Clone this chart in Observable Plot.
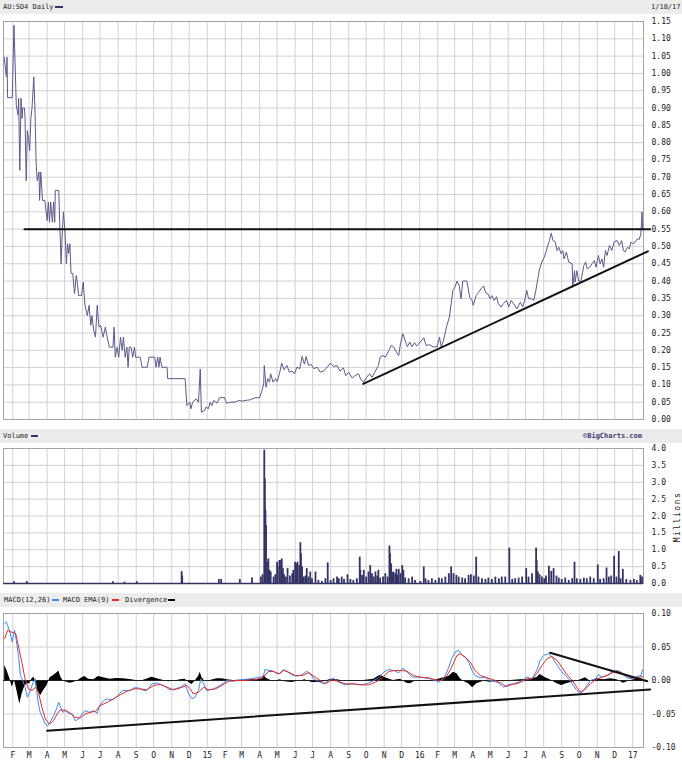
<!DOCTYPE html>
<html><head><meta charset="utf-8">
<script src="https://cdn.jsdelivr.net/npm/d3@7"></script>
<script src="https://cdn.jsdelivr.net/npm/@observablehq/plot@0.6"></script>
<style>
body{margin:0;background:#fff;}
#wrap{position:relative;width:682px;height:761px;overflow:hidden;font-family:"DejaVu Sans Mono",monospace;color:#222;background:#fff;}
.bar{position:absolute;left:0;width:682px;background:#ececec;}
.t{position:absolute;font-size:7px;white-space:nowrap;}
.sw{position:absolute;height:2px;}
.plot{position:absolute;left:0;}
</style></head><body><div id="wrap"></div>
<script>
// ---------------- DATA ----------------
const title = "AU:SO4 Daily";
const dateLabel = "1/18/17";
const xStart = "2014-01-16", xEnd = "2017-01-19T12:00:00Z";

const monthTicks = ["2014-02-01","2014-03-01","2014-04-01","2014-05-01","2014-06-01","2014-07-01","2014-08-01","2014-09-01","2014-10-01","2014-11-01","2014-12-01",
"2015-01-01","2015-02-01","2015-03-01","2015-04-01","2015-05-01","2015-06-01","2015-07-01","2015-08-01","2015-09-01","2015-10-01","2015-11-01","2015-12-01",
"2016-01-01","2016-02-01","2016-03-01","2016-04-01","2016-05-01","2016-06-01","2016-07-01","2016-08-01","2016-09-01","2016-10-01","2016-11-01","2016-12-01",
"2017-01-01"];
const monthLabels = ["F","M","A","M","J","J","A","S","O","N","D","15","F","M","A","M","J","J","A","S","O","N","D","16","F","M","A","M","J","J","A","S","O","N","D","17"];

const priceTicks = [0,0.05,0.10,0.15,0.20,0.25,0.30,0.35,0.40,0.45,0.50,0.55,0.60,0.65,0.70,0.75,0.80,0.85,0.90,0.95,1.00,1.05,1.10,1.15];
const volumeTicks = [0,0.5,1.0,1.5,2.0,2.5,3.0,3.5,4.0];
const macdTicks = [-0.10,-0.05,0,0.05,0.10];

const price = [
["2014-01-17",1.047],["2014-01-21",0.99],["2014-01-22",1.047],["2014-01-23",0.93],["2014-01-31",0.93],["2014-02-03",1.139],["2014-02-07",0.907],["2014-02-10",0.88],["2014-02-11",0.928],["2014-02-13",0.72],["2014-02-15",0.928],["2014-02-17",0.87],["2014-02-18",0.90],["2014-02-21",0.90],["2014-02-22",0.87],["2014-02-24",0.69],["2014-02-26",0.835],["2014-02-28",0.81],
["2014-03-02",0.777],["2014-03-04",0.87],["2014-03-06",0.90],["2014-03-09",0.99],["2014-03-11",0.90],["2014-03-13",0.744],["2014-03-15",0.69],["2014-03-18",0.715],["2014-03-19",0.633],["2014-03-21",0.715],["2014-03-24",0.633],["2014-03-28",0.633],
["2014-04-01",0.575],["2014-04-03",0.628],["2014-04-05",0.57],["2014-04-07",0.628],["2014-04-10",0.57],["2014-04-12",0.628],["2014-04-14",0.57],["2014-04-15",0.662],["2014-04-21",0.662],["2014-04-22",0.60],["2014-04-25",0.45],["2014-04-27",0.541],["2014-04-29",0.60],
["2014-05-02",0.532],["2014-05-04",0.45],["2014-05-06",0.508],["2014-05-08",0.48],["2014-05-10",0.508],["2014-05-12",0.422],["2014-05-15",0.422],["2014-05-18",0.364],["2014-05-21",0.416],["2014-05-23",0.393],["2014-05-25",0.358],["2014-05-30",0.358],
["2014-06-02",0.397],["2014-06-05",0.33],["2014-06-09",0.30],["2014-06-12",0.33],["2014-06-15",0.272],["2014-06-17",0.30],["2014-06-20",0.257],["2014-06-23",0.238],["2014-06-26",0.33],["2014-06-29",0.267],
["2014-07-02",0.272],["2014-07-06",0.238],["2014-07-10",0.267],["2014-07-13",0.238],["2014-07-17",0.209],["2014-07-23",0.209],["2014-07-25",0.267],["2014-07-27",0.18],["2014-07-30",0.209],
["2014-08-02",0.18],["2014-08-05",0.238],["2014-08-08",0.20],["2014-08-10",0.238],["2014-08-13",0.18],["2014-08-16",0.209],["2014-08-18",0.151],["2014-08-20",0.209],["2014-08-23",0.209],["2014-08-26",0.18],["2014-08-29",0.209],["2014-08-31",0.18],
["2014-09-08",0.18],["2014-09-11",0.151],["2014-09-20",0.151],["2014-09-23",0.18],["2014-10-03",0.18],["2014-10-05",0.151],["2014-10-08",0.18],["2014-10-10",0.151],["2014-10-12",0.18],["2014-10-15",0.151],["2014-10-24",0.151],["2014-10-25",0.118],["2014-11-24",0.118],
["2014-11-27",0.04],["2014-12-02",0.05],["2014-12-04",0.031],["2014-12-07",0.05],["2014-12-13",0.06],["2014-12-17",0.05],["2014-12-20",0.146],["2014-12-22",0.021],["2014-12-27",0.026],["2014-12-30",0.036],
["2015-01-03",0.031],["2015-01-06",0.05],["2015-01-09",0.04],["2015-01-12",0.055],["2015-01-18",0.047],["2015-01-22",0.063],["2015-01-31",0.063],["2015-02-03",0.047],["2015-02-10",0.05],["2015-02-18",0.05],["2015-02-24",0.055],
["2015-03-02",0.053],["2015-03-07",0.055],["2015-03-16",0.057],["2015-03-24",0.063],["2015-04-01",0.063],["2015-04-05",0.084],["2015-04-08",0.103],["2015-04-09",0.156],["2015-04-12",0.093],["2015-04-15",0.118],["2015-04-18",0.108],["2015-04-20",0.132],["2015-04-24",0.108],["2015-04-28",0.118],
["2015-05-01",0.11],["2015-05-05",0.132],["2015-05-09",0.163],["2015-05-13",0.144],["2015-05-18",0.156],["2015-05-22",0.137],["2015-05-27",0.14],["2015-05-31",0.132],
["2015-06-04",0.151],["2015-06-09",0.147],["2015-06-13",0.182],["2015-06-17",0.16],["2015-06-20",0.182],["2015-06-24",0.156],["2015-06-28",0.16],
["2015-07-03",0.147],["2015-07-09",0.151],["2015-07-14",0.137],["2015-07-20",0.14],["2015-07-26",0.151],["2015-08-01",0.163],["2015-08-06",0.153],["2015-08-12",0.156],["2015-08-17",0.14],["2015-08-23",0.149],["2015-08-27",0.127],
["2015-09-01",0.137],["2015-09-07",0.12],["2015-09-12",0.127],["2015-09-18",0.132],["2015-09-22",0.115],["2015-09-27",0.108],["2015-10-01",0.12],["2015-10-07",0.132],["2015-10-11",0.122],["2015-10-17",0.14],["2015-10-22",0.156],["2015-10-25",0.18],["2015-10-30",0.185],
["2015-11-03",0.18],["2015-11-09",0.199],["2015-11-13",0.214],["2015-11-17",0.21],["2015-11-22",0.195],["2015-11-26",0.185],["2015-11-29",0.219],["2015-12-03",0.248],["2015-12-07",0.228],["2015-12-11",0.21],["2015-12-15",0.224],["2015-12-19",0.21],["2015-12-23",0.222],["2015-12-27",0.212],
["2016-01-02",0.224],["2016-01-08",0.236],["2016-01-12",0.214],["2016-01-18",0.216],["2016-01-24",0.21],["2016-01-31",0.21],["2016-02-04",0.238],["2016-02-07",0.21],["2016-02-11",0.228],["2016-02-16",0.267],["2016-02-21",0.296],["2016-02-24",0.334],["2016-02-27",0.373],
["2016-03-02",0.384],["2016-03-05",0.40],["2016-03-09",0.386],["2016-03-12",0.349],["2016-03-15",0.40],["2016-03-22",0.40],["2016-03-27",0.353],["2016-03-31",0.344],["2016-04-02",0.33],["2016-04-07",0.358],["2016-04-11",0.367],["2016-04-15",0.377],["2016-04-20",0.386],["2016-04-23",0.367],["2016-04-27",0.363],
["2016-05-01",0.349],["2016-05-04",0.358],["2016-05-08",0.344],["2016-05-12",0.355],["2016-05-15",0.335],["2016-05-20",0.325],["2016-05-24",0.335],["2016-05-29",0.344],["2016-06-02",0.325],["2016-06-06",0.344],["2016-06-10",0.335],["2016-06-16",0.32],["2016-06-22",0.339],["2016-06-26",0.325],["2016-06-30",0.349],
["2016-07-03",0.373],["2016-07-06",0.349],["2016-07-11",0.349],["2016-07-15",0.344],["2016-07-19",0.377],["2016-07-22",0.407],["2016-07-25",0.435],["2016-07-29",0.455],["2016-08-02",0.469],["2016-08-05",0.484],["2016-08-08",0.503],["2016-08-11",0.517],["2016-08-14",0.538],["2016-08-17",0.517],["2016-08-21",0.513],["2016-08-24",0.488],["2016-08-27",0.498],["2016-08-31",0.479],
["2016-09-03",0.488],["2016-09-05",0.464],["2016-09-09",0.484],["2016-09-13",0.455],["2016-09-19",0.45],["2016-09-20",0.382],["2016-09-23",0.43],["2016-09-24",0.397],["2016-09-27",0.43],["2016-09-30",0.40],
["2016-10-04",0.40],["2016-10-09",0.445],["2016-10-12",0.455],["2016-10-15",0.435],["2016-10-19",0.44],["2016-10-23",0.45],["2016-10-27",0.459],["2016-10-30",0.44],["2016-11-03",0.474],["2016-11-06",0.45],["2016-11-09",0.464],["2016-11-12",0.44],["2016-11-15",0.488],["2016-11-18",0.474],["2016-11-22",0.503],["2016-11-26",0.488],["2016-11-30",0.513],
["2016-12-05",0.517],["2016-12-09",0.503],["2016-12-13",0.517],["2016-12-16",0.488],["2016-12-19",0.484],["2016-12-23",0.498],["2016-12-26",0.493],["2016-12-29",0.513],["2017-01-01",0.508],["2017-01-05",0.513],["2017-01-09",0.522],["2017-01-12",0.52],["2017-01-15",0.536],["2017-01-17",0.60],["2017-01-18",0.55]
];

const priceTrendLines = [
  ["resistance","2014-02-21",0.55],["resistance","2017-01-31",0.55],
  ["support","2015-09-26",0.103],["support","2017-01-27",0.486]
];

const volume = [
["2014-02-03",0.05],["2014-02-25",0.06],["2014-07-23",0.05],["2014-08-12",0.04],["2014-09-02",0.05],["2014-11-18",0.35],["2014-11-19",0.22],
["2015-01-21",0.12],["2015-01-25",0.12],["2015-02-26",0.12],["2015-03-19",0.16],["2015-04-03",0.19],["2015-04-06",0.26],
["2015-04-09",3.95],["2015-04-10",3.1],["2015-04-11",2.17],["2015-04-12",1.72],["2015-04-15",0.63],["2015-04-16",0.73],["2015-04-18",0.39],["2015-04-20",0.34],["2015-04-25",0.19],["2015-04-28",0.26],
["2015-05-01",0.63],["2015-05-02",0.49],["2015-05-05",0.68],["2015-05-06",0.68],["2015-05-09",0.73],["2015-05-11",0.44],["2015-05-13",0.26],["2015-05-16",0.19],["2015-05-19",0.44],["2015-05-23",0.22],["2015-05-27",0.29],["2015-05-29",0.39],
["2015-06-01",0.63],["2015-06-03",0.58],["2015-06-05",0.63],["2015-06-08",0.53],["2015-06-10",1.21],["2015-06-11",0.88],["2015-06-13",0.49],["2015-06-16",0.19],["2015-06-19",0.22],["2015-06-21",0.44],["2015-06-24",0.19],["2015-06-27",0.34],["2015-06-30",0.14],
["2015-07-06",0.34],["2015-07-11",0.09],["2015-07-17",0.06],["2015-07-23",0.14],["2015-07-27",0.61],["2015-08-01",0.09],["2015-08-06",0.14],["2015-08-12",0.19],["2015-08-15",0.14],["2015-08-20",0.19],["2015-08-24",0.12],["2015-08-30",0.26],
["2015-09-04",0.12],["2015-09-09",0.09],["2015-09-15",0.14],["2015-09-20",0.78],["2015-09-21",0.39],["2015-09-24",0.24],["2015-09-27",0.39],
["2015-10-01",0.19],["2015-10-05",0.34],["2015-10-08",0.53],["2015-10-11",0.29],["2015-10-14",0.19],["2015-10-17",0.34],["2015-10-20",0.22],["2015-10-22",0.39],["2015-10-25",0.16],["2015-10-30",0.19],
["2015-11-03",0.29],["2015-11-07",0.19],["2015-11-10",1.11],["2015-11-11",0.88],["2015-11-13",0.58],["2015-11-15",0.32],["2015-11-17",0.34],["2015-11-20",0.29],["2015-11-22",0.42],["2015-11-24",0.24],["2015-11-26",0.42],["2015-11-29",0.29],
["2015-12-02",0.53],["2015-12-04",0.39],["2015-12-07",0.16],["2015-12-13",0.14],["2015-12-19",0.19],["2015-12-24",0.09],
["2016-01-02",0.06],["2016-01-08",0.49],["2016-01-11",0.14],["2016-01-16",0.09],["2016-01-22",0.14],["2016-01-28",0.09],["2016-02-03",0.16],["2016-02-08",0.14],["2016-02-14",0.19],["2016-02-20",0.29],["2016-02-24",0.49],["2016-02-28",0.29],
["2016-03-04",0.24],["2016-03-08",0.19],["2016-03-14",0.16],["2016-03-19",0.14],["2016-03-25",0.24],["2016-03-29",0.26],["2016-04-03",0.22],["2016-04-07",0.78],["2016-04-11",0.19],["2016-04-17",0.14],["2016-04-23",0.12],["2016-04-28",0.16],
["2016-05-04",0.12],["2016-05-10",0.19],["2016-05-16",0.14],["2016-05-21",0.19],["2016-05-27",0.19],["2016-06-03",1.05],["2016-06-08",0.12],["2016-06-13",0.14],["2016-06-19",0.16],["2016-06-25",0.19],
["2016-07-02",0.44],["2016-07-06",0.19],["2016-07-12",0.29],["2016-07-19",1.05],["2016-07-20",0.68],["2016-07-22",0.34],["2016-07-25",0.26],["2016-07-29",0.19],
["2016-08-02",0.14],["2016-08-05",0.22],["2016-08-10",0.51],["2016-08-14",0.36],["2016-08-18",0.44],["2016-08-23",0.22],["2016-08-27",0.16],
["2016-09-01",0.12],["2016-09-07",0.16],["2016-09-13",0.09],["2016-09-19",0.14],["2016-09-23",0.63],["2016-09-27",0.14],["2016-10-03",0.12],["2016-10-09",0.16],["2016-10-14",0.14],["2016-10-20",0.19],["2016-10-26",0.14],
["2016-11-02",0.55],["2016-11-06",0.12],["2016-11-12",0.14],["2016-11-17",0.46],["2016-11-21",0.19],["2016-11-25",0.22],["2016-11-30",0.81],
["2016-12-04",0.19],["2016-12-08",0.95],["2016-12-11",0.14],["2016-12-15",0.42],["2016-12-21",0.12],["2016-12-28",0.09],["2017-01-03",0.12],["2017-01-08",0.09],["2017-01-14",0.24],["2017-01-17",0.19]
];

const macd = [
["2014-01-18",0.085],["2014-01-21",0.0875],["2014-01-23",0.0825],["2014-01-27",0.0725],["2014-01-31",0.0575],["2014-02-04",0.075],["2014-02-07",0.06],["2014-02-11",0.035],["2014-02-14",0.0075],["2014-02-18",0],["2014-02-22",-0.01],["2014-02-26",-0.025],
["2014-03-03",-0.015],["2014-03-08",-0.0025],["2014-03-12",0.0025],["2014-03-14",-0.015],["2014-03-17",-0.035],["2014-03-20",-0.0475],["2014-03-25",-0.0575],["2014-03-29",-0.065],["2014-04-02",-0.0675],["2014-04-06",-0.0625],["2014-04-12",-0.0525],["2014-04-17",-0.0425],["2014-04-21",-0.0325],["2014-04-23",-0.0375],["2014-04-28",-0.0475],
["2014-05-02",-0.045],["2014-05-08",-0.049],["2014-05-14",-0.05],["2014-05-19",-0.06],["2014-05-25",-0.0575],["2014-05-31",-0.05],["2014-06-05",-0.045],["2014-06-13",-0.0475],["2014-06-20",-0.045],["2014-06-26",-0.049],["2014-06-30",-0.0375],
["2014-07-07",-0.03],["2014-07-13",-0.0275],["2014-07-21",-0.029],["2014-07-30",-0.024],["2014-08-08",-0.015],["2014-08-13",-0.015],["2014-08-22",-0.015],["2014-08-28",-0.011],["2014-09-05",-0.011],["2014-09-14",-0.015],["2014-09-19",-0.015],["2014-09-28",-0.005],
["2014-10-07",-0.004],["2014-10-18",-0.0075],["2014-10-29",-0.014],["2014-11-07",-0.0125],["2014-11-16",-0.01],["2014-11-24",-0.005],["2014-11-30",-0.02],["2014-12-06",-0.0275],["2014-12-11",-0.025],["2014-12-17",-0.015],["2014-12-21",0.0025],["2014-12-26",-0.005],["2014-12-31",-0.015],
["2015-01-12",-0.0125],["2015-01-23",-0.0075],["2015-02-04",0],["2015-02-15",-0.001],["2015-02-27",0.001],["2015-03-16",0.0025],["2015-04-02",0.005],["2015-04-08",0.0075],["2015-04-10",0.0165],["2015-04-16",0.015],["2015-04-22",0.015],["2015-04-28",0.0115],
["2015-05-06",0.01],["2015-05-12",0.0165],["2015-05-18",0.0135],["2015-05-26",0.0085],["2015-06-04",0.0065],["2015-06-13",0.0085],["2015-06-20",0.0135],["2015-06-26",0.0115],["2015-07-03",0.0025],["2015-07-11",-0.0015],["2015-07-20",-0.005],["2015-07-29",0],
["2015-08-06",0.0035],["2015-08-15",-0.0025],["2015-08-26",-0.0065],["2015-09-07",-0.005],["2015-09-21",-0.0065],["2015-10-02",-0.005],["2015-10-14",0],["2015-10-22",0.0035],["2015-10-31",0.0125],["2015-11-09",0.0165],["2015-11-17",0.015],["2015-11-26",0.0115],
["2015-12-03",0.0185],["2015-12-10",0.013],["2015-12-19",0.005],["2015-12-27",0.005],["2016-01-02",0.005],["2016-01-10",0.004],["2016-01-19",0.0025],["2016-01-28",0],["2016-02-03",-0.0025],["2016-02-08",0.001],["2016-02-14",0.0075],["2016-02-20",0.02],["2016-02-25",0.0325],
["2016-03-02",0.0425],["2016-03-08",0.045],["2016-03-14",0.0375],["2016-03-19",0.035],["2016-03-25",0.0275],["2016-03-31",0.015],["2016-04-05",0.0075],["2016-04-14",0.004],["2016-04-23",0.005],["2016-04-28",0.001],["2016-05-07",-0.001],["2016-05-16",-0.004],["2016-05-24",-0.01],
["2016-06-02",-0.006],["2016-06-10",-0.005],["2016-06-19",-0.0025],["2016-06-27",0.001],["2016-07-03",0.005],["2016-07-12",0.0025],["2016-07-20",0.015],["2016-07-26",0.03],["2016-08-01",0.0375],["2016-08-10",0.04],["2016-08-15",0.035],["2016-08-21",0.0275],["2016-08-27",0.019],
["2016-09-04",0.01],["2016-09-13",0.0025],["2016-09-21",-0.0075],["2016-09-27",-0.015],["2016-10-03",-0.019],["2016-10-09",-0.015],["2016-10-14",-0.0075],["2016-10-20",0],["2016-10-29",0.0025],["2016-11-03",0.009],["2016-11-09",0.005],["2016-11-18",0.0075],["2016-11-26",0.0125],
["2016-12-05",0.015],["2016-12-13",0.011],["2016-12-22",0.004],["2016-12-31",0.0025],["2017-01-08",0.006],["2017-01-15",0.0075],["2017-01-18",0.016]
];

const macdEma = [
["2014-01-18",0.0625],["2014-01-23",0.075],["2014-01-29",0.0725],["2014-02-06",0.07],["2014-02-11",0.05],["2014-02-17",0.025],["2014-02-22",0.0025],["2014-02-28",-0.0125],["2014-03-06",-0.015],["2014-03-12",-0.01],["2014-03-17",-0.0175],["2014-03-23",-0.04],["2014-03-29",-0.0575],
["2014-04-05",-0.065],["2014-04-12",-0.06],["2014-04-18",-0.05],["2014-04-23",-0.044],["2014-05-02",-0.044],["2014-05-11",-0.049],["2014-05-19",-0.055],["2014-05-28",-0.056],["2014-06-05",-0.05],["2014-06-14",-0.0475],["2014-06-23",-0.046],["2014-07-01",-0.0375],["2014-07-13",-0.0325],["2014-07-24",-0.0275],
["2014-08-05",-0.021],["2014-08-16",-0.016],["2014-08-28",-0.0125],["2014-09-08",-0.0125],["2014-09-19",-0.014],["2014-10-01",-0.0075],["2014-10-12",-0.006],["2014-10-24",-0.01],["2014-11-04",-0.014],["2014-11-16",-0.011],["2014-11-27",-0.0075],["2014-12-03",-0.0125],["2014-12-08",-0.02],["2014-12-17",-0.0175],["2014-12-26",-0.01],
["2015-01-03",-0.014],["2015-01-15",-0.0125],["2015-01-26",-0.0075],["2015-02-07",-0.001],["2015-02-21",0],["2015-03-05",0],["2015-03-27",0.0015],["2015-04-08",0.005],["2015-04-16",0.0135],["2015-04-25",0.0135],["2015-05-04",0.01],["2015-05-12",0.015],["2015-05-21",0.0125],
["2015-06-01",0.0075],["2015-06-13",0.0075],["2015-06-24",0.0115],["2015-07-03",0.0065],["2015-07-14",0],["2015-07-23",-0.005],["2015-08-03",0.001],["2015-08-15",-0.0015],["2015-08-26",-0.005],["2015-09-09",-0.005],["2015-09-24",-0.0065],["2015-10-05",-0.0065],["2015-10-17",-0.0025],["2015-10-28",0.0035],
["2015-11-09",0.0135],["2015-11-20",0.015],["2015-12-01",0.015],["2015-12-10",0.014],["2015-12-21",0.0075],["2016-01-02",0.005],["2016-01-16",0.004],["2016-01-28",0.001],["2016-02-08",0],["2016-02-17",0.0075],["2016-02-25",0.02],["2016-03-05",0.0375],["2016-03-11",0.04],["2016-03-19",0.035],["2016-03-28",0.0275],
["2016-04-05",0.015],["2016-04-14",0.0075],["2016-04-26",0.004],["2016-05-07",0.001],["2016-05-20",-0.004],["2016-05-28",-0.009],["2016-06-08",-0.006],["2016-06-19",-0.004],["2016-06-30",0.001],["2016-07-12",0.0025],["2016-07-20",0.01],["2016-07-29",0.0225],["2016-08-07",0.0325],["2016-08-15",0.036],["2016-08-24",0.03],
["2016-09-01",0.02],["2016-09-09",0.01],["2016-09-19",0],["2016-09-27",-0.01],["2016-10-03",-0.0175],["2016-10-12",-0.0125],["2016-10-20",-0.005],["2016-10-29",0.001],["2016-11-06",0.004],["2016-11-18",0.0075],["2016-11-29",0.0125],["2016-12-08",0.014],["2016-12-16",0.01],["2016-12-28",0.004],["2017-01-08",0.004],["2017-01-18",0.006]
];

const divergence = [
["2014-01-18",0.0225],["2014-01-22",0.015],["2014-01-27",0.0025],["2014-01-31",-0.01],["2014-02-04",0],["2014-02-08",-0.015],["2014-02-13",-0.035],["2014-02-17",-0.02],["2014-02-21",-0.01],["2014-02-25",-0.005],["2014-03-02",-0.005],["2014-03-06",0.0025],["2014-03-10",0.005],["2014-03-13",-0.0075],["2014-03-17",-0.0175],["2014-03-21",-0.0225],["2014-03-26",-0.015],
["2014-04-01",-0.0075],["2014-04-06",0.004],["2014-04-12",0.0075],["2014-04-17",0.011],["2014-04-21",0.014],["2014-04-25",0.004],["2014-04-29",-0.001],["2014-05-05",-0.0025],["2014-05-11",-0.004],["2014-05-17",-0.0025],["2014-05-22",-0.001],["2014-05-31",0.004],["2014-06-05",0.006],["2014-06-11",0.002],["2014-06-20",0.001],["2014-06-28",0.006],
["2014-07-07",0.004],["2014-07-18",0.002],["2014-07-30",0.003],["2014-08-10",0.0025],["2014-08-24",0.001],["2014-09-08",-0.001],["2014-09-19",0.002],["2014-09-28",0.005],["2014-10-07",0.0025],["2014-10-18",0],["2014-10-27",-0.002],["2014-11-04",-0.001],["2014-11-16",0.001],["2014-11-24",0.002],["2014-11-30",-0.0025],
["2014-12-06",-0.006],["2014-12-11",-0.001],["2014-12-17",0.006],["2014-12-20",0.0125],["2014-12-23",0.004],["2014-12-28",-0.001],["2015-01-06",0],["2015-01-18",0.0025],["2015-01-26",0.0025],["2015-02-04",0.001],["2015-02-15",0],["2015-03-16",0.001],["2015-04-05",0.002],["2015-04-09",0.0075],["2015-04-13",0.003],
["2015-04-25",-0.002],["2015-05-06",0.001],["2015-05-15",-0.002],["2015-05-26",-0.003],["2015-06-07",-0.001],["2015-06-18",0.001],["2015-06-30",-0.003],["2015-07-13",-0.003],["2015-07-23",-0.001],["2015-08-01",0.002],["2015-08-12",0.001],["2015-08-26",-0.001],["2015-09-09",0],["2015-09-27",0],
["2015-10-14",0.002],["2015-10-25",0.008],["2015-11-06",0.003],["2015-11-17",0],["2015-11-29",0.002],["2015-12-10",-0.004],["2015-12-16",-0.005],["2015-12-24",-0.001],["2016-01-02",0],["2016-01-26",0],["2016-02-11",0.004],["2016-02-20",0.006],["2016-02-28",0.0125],["2016-03-05",0.01],["2016-03-11",0.0025],
["2016-03-16",-0.001],["2016-03-25",-0.005],["2016-04-01",-0.011],["2016-04-08",-0.005],["2016-04-20",-0.001],["2016-05-01",-0.0025],["2016-05-13",-0.001],["2016-05-24",-0.002],["2016-06-05",0],["2016-07-03",0.002],["2016-07-20",0.004],["2016-07-26",0.009],["2016-08-04",0.004],["2016-08-12",0.001],
["2016-08-24",-0.005],["2016-09-01",-0.0075],["2016-09-09",-0.005],["2016-09-19",-0.0025],["2016-09-27",-0.001],["2016-10-12",0.004],["2016-10-20",-0.001],["2016-11-01",0.0025],["2016-11-12",0.001],["2016-11-24",0.0025],["2016-12-05",0.001],["2016-12-16",-0.004],["2016-12-25",-0.001],["2017-01-03",0.001],["2017-01-17",0.0025]
];

const macdTrendLines = [
  ["lower","2014-04-01",-0.075],["lower","2017-01-31",-0.0135],
  ["upper","2016-08-12",0.0413],["upper","2017-01-26",-0.001]
];

// ---------------- BUILD ----------------
const wrap = document.getElementById("wrap");
const rows = a => a.map(([d, v]) => ({date: new Date(d), value: v}));
const trendRows = a => a.map(([id, d, v]) => ({id, date: new Date(d), value: v}));
const monthDates = monthTicks.map(d => new Date(d));
const labelMap = new Map(monthDates.map((d, i) => [+d, monthLabels[i]]));
const xDomain = [new Date(xStart), new Date(xEnd)];
const GRID = "#d2d2d2", FRAME = "#a4a4a4", NAVY = "#333366";
const baseStyle = {fontFamily: "DejaVu Sans Mono, monospace", fontSize: "8px", color: "#222", background: "transparent", overflow: "visible"};

function el(tag, cls, css, text) {
  const e = document.createElement(tag);
  if (cls) e.className = cls;
  Object.assign(e.style, css);
  if (text != null) e.textContent = text;
  wrap.appendChild(e);
  return e;
}
function bar(top, h) { el("div", "bar", {top: top + "px", height: h + "px"}); }
function txt(left, top, h, s, extra) { el("div", "t", Object.assign({left: left + "px", top: top + "px", height: h + "px", lineHeight: h + "px"}, extra || {}), s); }
function sw(left, top, w, color) { el("div", "sw", {left: left + "px", top: top + "px", width: w + "px", background: color}); }
function place(svg, top) { svg.classList.add("plot"); svg.style.position = "absolute"; svg.style.top = top + "px"; svg.style.left = "0px"; wrap.appendChild(svg); }

// headers
bar(0, 14); txt(3, 0, 14, title); sw(55, 6, 8, NAVY); txt(651, 0, 14, dateLabel);
bar(429, 14); txt(3, 429, 14, "Volume"); sw(31, 435, 7, NAVY);
txt(583, 429, 14, "\u00A9BigCharts.com", {color: "#3b3b6e", fontWeight: "bold"});
bar(593, 14); txt(4, 593, 14, "MACD(12,26)"); sw(52, 599, 7, "#3a8cf0");
txt(63, 593, 14, "MACD EMA(9)"); sw(112, 599, 7, "#e52a2a");
txt(125, 593, 14, "Divergence"); sw(168, 599, 7, "#000");

// price panel
const pricePlot = Plot.plot({
  width: 682, height: 412, marginTop: 7, marginBottom: 7, marginLeft: 3, marginRight: 39,
  style: baseStyle,
  x: {type: "utc", domain: xDomain, axis: null},
  y: {domain: [0, 1.15], axis: null},
  marks: [
    Plot.gridX(monthDates, {stroke: GRID, strokeOpacity: 1}),
    Plot.gridY(priceTicks, {stroke: GRID, strokeOpacity: 1}),
    Plot.frame({stroke: FRAME}),
    Plot.axisY(priceTicks, {anchor: "right", tickSize: 0, tickPadding: 8, tickFormat: d => d.toFixed(2), label: null}),
    Plot.line(rows(price), {x: "date", y: "value", stroke: "#5a5a8c", strokeWidth: 1}),
    Plot.line(trendRows(priceTrendLines), {x: "date", y: "value", z: "id", stroke: "#111", strokeWidth: 2})
  ]
});
place(pricePlot, 14);

// volume panel
const volumePlot = Plot.plot({
  width: 682, height: 144, marginTop: 4, marginBottom: 5, marginLeft: 3, marginRight: 39,
  style: baseStyle,
  x: {type: "utc", domain: xDomain, axis: null},
  y: {domain: [0, 4], axis: null},
  marks: [
    Plot.gridX(monthDates, {stroke: GRID, strokeOpacity: 1}),
    Plot.gridY(volumeTicks, {stroke: GRID, strokeOpacity: 1}),
    Plot.frame({stroke: FRAME}),
    Plot.axisY(volumeTicks, {anchor: "right", tickSize: 0, tickPadding: 8, tickFormat: d => d.toFixed(1), label: null}),
    Plot.ruleX(rows(volume), {x: "date", y1: 0, y2: "value", stroke: NAVY, strokeWidth: 1.8}),
    Plot.ruleY([0], {stroke: NAVY, strokeWidth: 1.5})
  ]
});
place(volumePlot, 444);
el("div", "t", {left: "677px", top: "517px", fontSize: "8px", letterSpacing: "1.5px", transform: "translate(-50%,-50%) rotate(-90deg)"}, "Millions");

// MACD panel
const macdPlot = Plot.plot({
  width: 682, height: 153, marginTop: 5, marginBottom: 14, marginLeft: 3, marginRight: 39,
  style: baseStyle,
  x: {type: "utc", domain: xDomain, axis: null},
  y: {domain: [-0.1, 0.1], axis: null},
  marks: [
    Plot.gridX(monthDates, {stroke: GRID, strokeOpacity: 1}),
    Plot.gridY(macdTicks, {stroke: GRID, strokeOpacity: 1}),
    Plot.frame({stroke: FRAME}),
    Plot.axisY(macdTicks, {anchor: "right", tickSize: 0, tickPadding: 8, tickFormat: d => d.toFixed(2), label: null}),
    Plot.axisX(monthDates, {anchor: "bottom", tickSize: 0, tickPadding: 5, tickFormat: d => labelMap.get(+d), label: null}),
    Plot.areaY(rows(divergence), {x: "date", y: "value", fill: "#000"}),
    Plot.ruleY([0], {stroke: "#222", strokeWidth: 1}),
    Plot.line(rows(macd), {x: "date", y: "value", stroke: "#3a8cf0", strokeWidth: 1}),
    Plot.line(rows(macdEma), {x: "date", y: "value", stroke: "#e52a2a", strokeWidth: 1}),
    Plot.line(trendRows(macdTrendLines), {x: "date", y: "value", z: "id", stroke: "#111", strokeWidth: 2})
  ]
});
place(macdPlot, 608);
</script></body></html>
